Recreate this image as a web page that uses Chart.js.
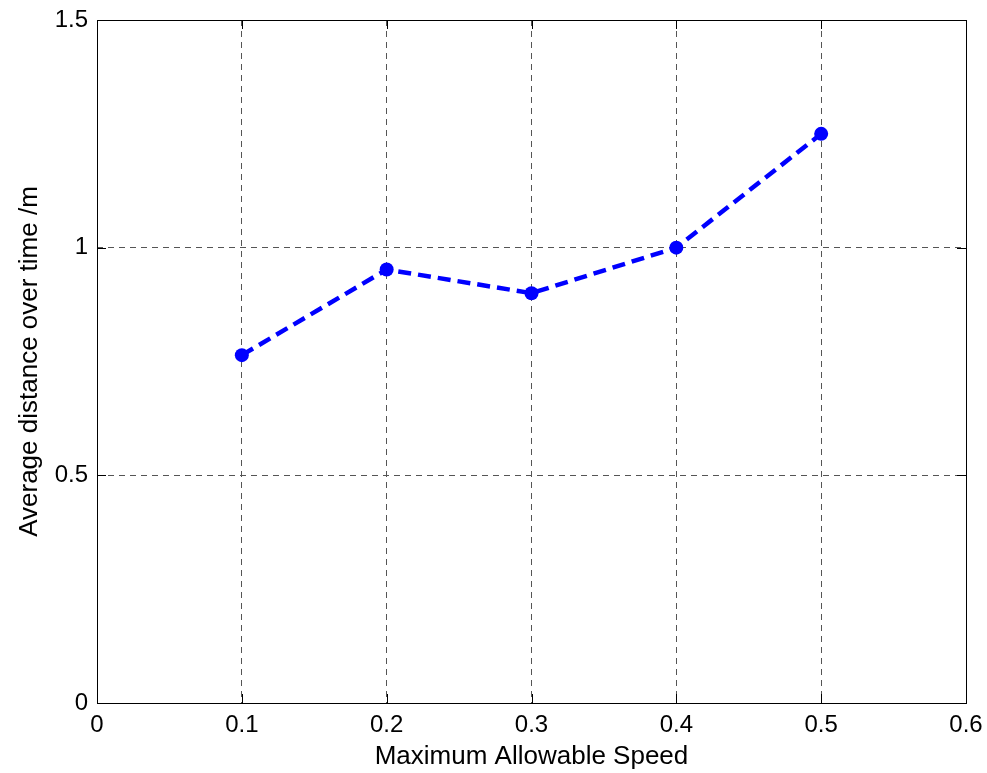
<!DOCTYPE html>
<html>
<head>
<meta charset="utf-8">
<script src="https://cdn.jsdelivr.net/npm/chart.js@4/dist/chart.umd.min.js"></script>
<style>
  html, body { margin: 0; padding: 0; background: #fff; }
  canvas { display: block; }
</style>
</head>
<body>
<canvas id="c" width="987" height="773"></canvas>
<script>
const speeds = [0.1, 0.2, 0.3, 0.4, 0.5];
const avgDistance = [0.764, 0.952, 0.90, 1.0, 1.25];
const xTitle = 'Maximum Allowable Speed';
const yTitle = 'Average distance over time /m';

const FONT = "'Liberation Sans', Arial, sans-serif";

const fmt = v => String(Math.round(v * 10) / 10);

// Inward tick marks and black box, MATLAB style
const boxPlugin = {
  id: 'box',
  afterDraw(chart) {
    const {ctx, chartArea: a, scales: {x, y}} = chart;
    ctx.save();
    ctx.strokeStyle = '#000';
    ctx.lineWidth = 1;
    ctx.setLineDash([]);
    const L = 9;
    x.ticks.forEach(t => {
      const px = Math.round(x.getPixelForValue(t.value)) + 0.5;
      ctx.beginPath();
      ctx.moveTo(px, a.bottom); ctx.lineTo(px, a.bottom - L);
      ctx.moveTo(px, a.top); ctx.lineTo(px, a.top + L);
      ctx.stroke();
    });
    y.ticks.forEach(t => {
      const py = Math.round(y.getPixelForValue(t.value)) + 0.5;
      ctx.beginPath();
      ctx.moveTo(a.left, py); ctx.lineTo(a.left + L, py);
      ctx.moveTo(a.right, py); ctx.lineTo(a.right - L, py);
      ctx.stroke();
    });
    ctx.strokeRect(Math.round(a.left) + 0.5, Math.round(a.top) + 0.5,
                   Math.round(a.right - a.left), Math.round(a.bottom - a.top));
    ctx.restore();
  }
};

new Chart(document.getElementById('c'), {
  type: 'line',
  data: {
    datasets: [{
      data: speeds.map((s, i) => ({x: s, y: avgDistance[i]})),
      borderColor: '#0000ff',
      backgroundColor: '#0000ff',
      borderWidth: 4.5,
      borderDash: [13, 7],
      pointRadius: 7,
      pointBorderWidth: 0,
      pointBackgroundColor: '#0000ff',
      tension: 0,
      fill: false
    }]
  },
  options: {
    responsive: false,
    animation: false,
    layout: { padding: { top: 20, right: 21, left: 0, bottom: 0 } },
    plugins: { legend: { display: false }, tooltip: { enabled: false } },
    scales: {
      x: {
        type: 'linear',
        min: 0, max: 0.6,
        afterFit(s) { s.height = 70; s.paddingLeft = 0; s.paddingRight = 0; },
        ticks: { stepSize: 0.1, padding: 8, color: '#000', font: { family: FONT, size: 24 }, callback: fmt },
        grid: { color: '#555', lineWidth: 1, drawTicks: false },
        border: { display: false, dash: [6, 5] },
        title: { display: true, text: xTitle, color: '#000', font: { family: FONT, size: 26 }, padding: { top: 0, bottom: 1 } }
      },
      y: {
        min: 0, max: 1.5,
        afterFit(s) { s.width = 97; s.paddingTop = 0; s.paddingBottom = 0; },
        ticks: { stepSize: 0.5, padding: 9, color: '#000', font: { family: FONT, size: 24 }, callback: fmt },
        grid: { color: '#555', lineWidth: 1, drawTicks: false },
        border: { display: false, dash: [6, 5] },
        title: { display: true, text: yTitle, color: '#000', font: { family: FONT, size: 26 }, padding: { top: 14, bottom: 0 } }
      }
    }
  },
  plugins: [boxPlugin]
});
</script>
</body>
</html>
